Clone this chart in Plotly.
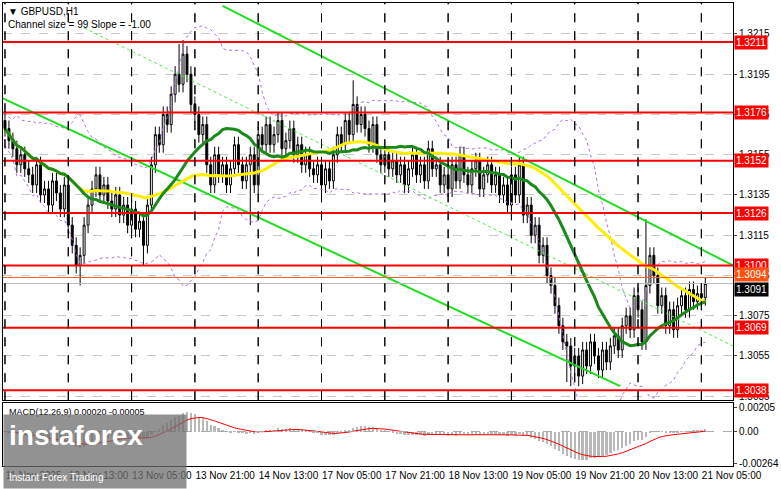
import plotly.graph_objects as go
import pandas as pd
import numpy as np

closes = [1.3168,1.3162,1.3158,1.3150,1.3155,1.3148,
1.3145,1.3140,1.3150,1.3135,1.3138,1.3130,1.3142,1.3136,1.3128,
1.3140,1.3120,1.3110,1.3100,1.3105,
1.3120,1.3130,1.3138,1.3145,1.3135,1.3140,1.3132,1.3128,1.3135,1.3125,1.3130,1.3120,1.3128,1.3118,1.3122,1.3110,
1.3130,1.3150,1.3165,1.3160,1.3175,1.3170,1.3185,1.3195,1.3190,1.3205,1.3195,
1.3180,1.3175,1.3165,1.3170,1.3150,1.3140,
1.3155,1.3145,1.3150,1.3140,1.3148,1.3160,1.3150,1.3142,1.3150,1.3155,1.3140,1.3165,1.3160,
1.3170,1.3160,1.3165,1.3172,1.3158,1.3162,1.3168,1.3155,1.3160,1.3150,
1.3155,1.3148,1.3145,1.3150,1.3140,1.3148,1.3142,1.3155,1.3165,1.3160,
1.3172,1.3165,1.3180,1.3170,1.3175,1.3168,1.3160,1.3170,1.3155,1.3150,
1.3155,1.3148,1.3152,1.3145,1.3150,1.3140,1.3148,1.3155,1.3145,1.3150,1.3142,1.3158,1.3148,1.3150,1.3140,
1.3145,1.3138,1.3150,1.3142,1.3155,1.3145,1.3140,1.3148,1.3152,1.3138,1.3145,1.3150,1.3140,1.3145,1.3135,
1.3140,1.3130,1.3145,1.3135,1.3150,1.3125,1.3130,1.3115,1.3120,1.3105,
1.3110,1.3095,1.3090,1.3080,1.3070,1.3062,1.3060,1.3050,
1.3055,1.3045,1.3058,1.3050,1.3062,1.3055,1.3048,1.3058,1.3052,1.3060,1.3065,1.3058,
1.3070,1.3075,1.3068,1.3085,1.3078,1.3062,1.3090,1.3105,
1.3095,1.3080,1.3085,1.3070,1.3078,1.3068,1.3080,1.3085,1.3078,1.3088,1.3082,1.3086,1.3084,1.3091]
first_open = 1.3172
high_over = {44: 1.3210, 45: 1.3212, 88: 1.3192, 162: 1.3123, 177: 1.3094}
low_over = {19: 1.3090, 35: 1.3100, 62: 1.3120, 142: 1.3042, 143: 1.3040, 145: 1.3040}
wick = 0.0004

levels = [1.3211, 1.3176, 1.3152, 1.3126, 1.3100, 1.3069, 1.3038]
tick_idx = [0, 16, 32, 48, 64, 80, 96, 112, 128, 144, 160, 176]
tick_text = ["11 Nov 2025", "12 Nov 13:00", "13 Nov 05:00", "13 Nov 21:00", "14 Nov 13:00",
             "17 Nov 05:00", "17 Nov 21:00", "18 Nov 13:00", "19 Nov 05:00", "19 Nov 21:00",
             "20 Nov 13:00", "21 Nov 05:00"]
price_ticks = [1.3035, 1.3055, 1.3075, 1.3095, 1.3115, 1.3135, 1.3155, 1.3175, 1.3195, 1.3215]
ch_upper = ([55, 184], [1.3229, 1.3100])
ch_lower = ([-0.5, 155.5], [1.3183, 1.3040])
ch_mid = ([20, 184], [1.3218, 1.3060])

n = len(closes)
idx = list(range(n))
opens = [first_open] + closes[:-1]
highs = [high_over.get(i) or max(o, c) + wick for i, (o, c) in enumerate(zip(opens, closes))]
lows = [low_over.get(i) or min(o, c) - wick for i, (o, c) in enumerate(zip(opens, closes))]

s = pd.Series(closes)
ma_fast = s.rolling(20, min_periods=1).mean()
ma_slow = s.rolling(50, min_periods=1).mean()
bb_mid = s.rolling(20, min_periods=1).mean()
bb_sd = s.rolling(20, min_periods=2).std().bfill()
macd = s.ewm(span=12, adjust=False).mean() - s.ewm(span=26, adjust=False).mean()
signal = macd.ewm(span=9, adjust=False).mean()

FONT = "Liberation Sans"
fig = go.Figure()
fig.add_trace(go.Scatter(x=idx, y=bb_mid + 2 * bb_sd, mode="lines", line=dict(color="#b070e0", width=1, dash="dot")))
fig.add_trace(go.Scatter(x=idx, y=bb_mid - 2 * bb_sd, mode="lines", line=dict(color="#b070e0", width=1, dash="dot")))
for xs, ys, dash, col in [(ch_upper[0], ch_upper[1], "solid", "#22dd22"), (ch_lower[0], ch_lower[1], "solid", "#22dd22"), (ch_mid[0], ch_mid[1], "dot", "#44ee44")]:
    fig.add_trace(go.Scatter(x=xs, y=ys, mode="lines", line=dict(color=col, width=2 if dash == "solid" else 1, dash=dash)))
for lv in levels:
    fig.add_hline(y=lv, line=dict(color="#ff0000", width=2), yref="y")
fig.add_hline(y=1.3094, line=dict(color="#ff6020", width=1), yref="y")
fig.add_hline(y=1.3091, line=dict(color="#bbbbbb", width=1), yref="y")
fig.add_trace(go.Scatter(x=idx, y=ma_slow, mode="lines", line=dict(color="#ffee00", width=3)))
fig.add_trace(go.Scatter(x=idx, y=ma_fast, mode="lines", line=dict(color="#1a8a1a", width=3)))
fig.add_trace(go.Candlestick(x=idx, open=opens, high=highs, low=lows, close=closes,
    increasing=dict(line=dict(color="black", width=1), fillcolor="white"),
    decreasing=dict(line=dict(color="black", width=1), fillcolor="black"), whiskerwidth=0))
fig.add_trace(go.Bar(x=idx, y=macd, marker_color="#b8b8b8", marker_line_width=0, yaxis="y2", xaxis="x2", width=0.6))
fig.add_trace(go.Scatter(x=idx, y=signal, mode="lines", line=dict(color="red", width=1), yaxis="y2", xaxis="x2"))
fig.add_hline(y=0, line=dict(color="#aaaaaa", width=1, dash="dash"), yref="y2")

for t in tick_idx:
    fig.add_vline(x=t, line=dict(color="black", width=1, dash="dash"), xref="x")
    fig.add_vline(x=t, line=dict(color="black", width=1, dash="dash"), xref="x2")

ann = []
def label(v, text, bg, dy=0):
    ann.append(dict(x=1, xref="paper", y=v, yref="y", text=text, xanchor="left", showarrow=False,
                    bgcolor=bg, font=dict(color="white", size=10, family=FONT), borderpad=1, xshift=1, yshift=dy))
for lv in levels:
    label(lv, f"{lv:.4f}", "#ff0000")
label(1.3094, "1.3094", "#ff5010", 3)
label(1.3091, "1.3091", "black", -6)
ann.append(dict(x=0, xref="paper", y=1, yref="paper", text="▼ GBPUSD,H1<br>Channel size = 99 Slope = -1.00", xanchor="left", yanchor="top",
                align="left", showarrow=False, font=dict(color="black", size=10, family=FONT), xshift=3, yshift=-1))
ann.append(dict(x=0, xref="paper", y=0.132, yref="paper", text="MACD(12,26,9) 0.00020 -0.00005", xanchor="left", yanchor="top",
                showarrow=False, font=dict(color="black", size=9, family=FONT), xshift=4))
ann.append(dict(x=0, xref="paper", y=0, yref="paper", text="<b>instaforex</b><br><span style='font-size:10px'>Instant Forex Trading</span>",
                xanchor="left", yanchor="bottom", align="left", showarrow=False, bgcolor="rgba(110,110,110,0.75)",
                font=dict(color="white", size=28, family=FONT), yshift=-23, borderpad=5, width=172))

ax = dict(range=[-0.5, 184], showgrid=False, zeroline=False, showline=True, linecolor="black", mirror=True, ticks="")
fig.update_layout(
    width=781, height=489, margin=dict(l=2, r=41, t=2, b=23), plot_bgcolor="white", paper_bgcolor="white",
    showlegend=False, annotations=ann, bargap=0,
    xaxis=dict(**ax, domain=[0, 1], anchor="y", showticklabels=False, rangeslider=dict(visible=False)),
    xaxis2=dict(**ax, domain=[0, 1], anchor="y2", tickvals=tick_idx, ticktext=tick_text, tickangle=0,
                ticklabelposition="outside right", tickfont=dict(size=10, family=FONT, color="black")),
    yaxis=dict(domain=[0.142, 1], range=[1.30330, 1.32304], side="right", tickvals=price_ticks, tickformat=".4f",
               showgrid=True, gridcolor="#c8c8c8", griddash="dash", zeroline=False, showline=True, linecolor="black", mirror=True,
               ticks="outside", ticklen=3, tickfont=dict(size=10, family=FONT, color="black")),
    yaxis2=dict(domain=[0, 0.136], range=[-0.00289, 0.00239], side="right", tickvals=[-0.00264, 0, 0.00205],
                ticktext=["-0.00264", "0.00", "0.00205"], showgrid=False, zeroline=False, showline=True, linecolor="black", mirror=True,
                ticks="outside", ticklen=3, tickfont=dict(size=10, family=FONT, color="black")),
)
fig.write_html("out.html", config={"displayModeBar": False}, post_script="document.body.style.margin='0';")
